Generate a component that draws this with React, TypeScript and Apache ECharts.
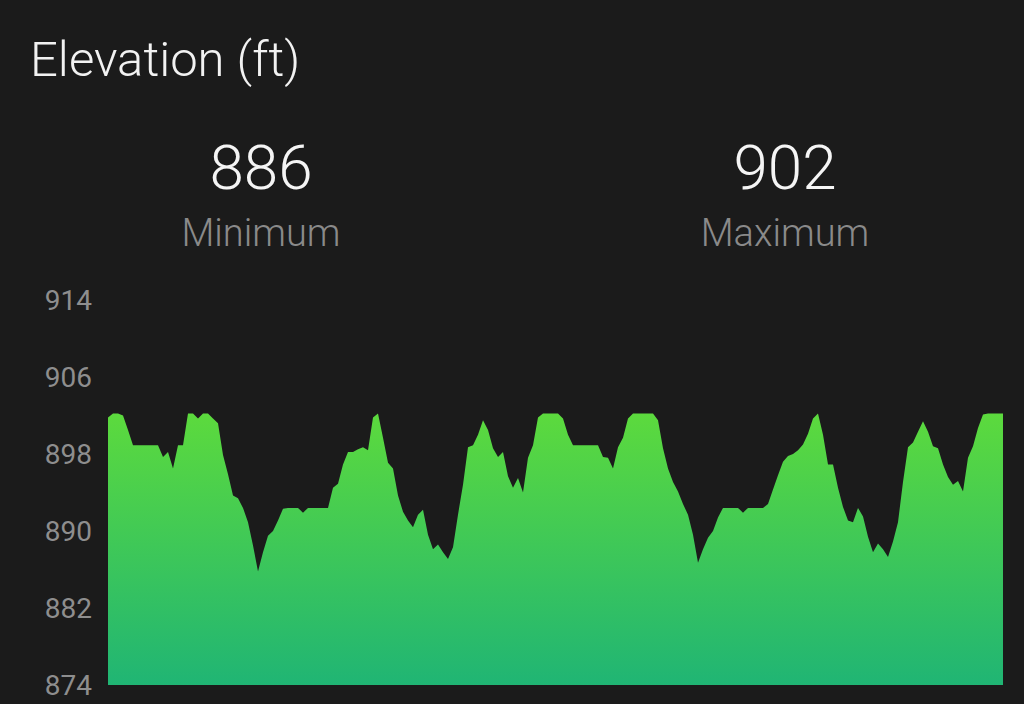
import React, { useEffect, useRef } from "react";
import * as echarts from "echarts";

const title = "Elevation (ft)";
const statLabels = ["Minimum", "Maximum"];
const statValues = [886, 902];
const yTicks = [874, 882, 890, 898, 906, 914];

const elevation = [
  901.8, 902.2, 902.2, 902.0, 900.5, 898.9, 898.9, 898.9, 898.9, 898.9,
  898.9, 897.7, 898.2, 896.5, 898.9, 898.9, 902.2, 902.2, 901.7, 902.2,
  902.2, 901.7, 901.2, 897.9, 895.9, 893.7, 893.4, 892.4, 890.9, 888.5,
  885.8, 887.8, 889.5, 890.0, 891.1, 892.3, 892.4, 892.4, 892.4, 891.9,
  892.4, 892.4, 892.4, 892.4, 892.4, 894.5, 894.9, 896.9, 898.2, 898.2,
  898.5, 898.7, 898.4, 901.8, 902.2, 899.7, 897.1, 896.5, 893.7, 892.0,
  891.1, 890.4, 891.7, 892.2, 889.6, 888.1, 888.6, 887.8, 887.1, 888.3,
  891.7, 894.8, 898.7, 898.9, 900.0, 901.5, 900.5, 898.6, 897.7, 898.2,
  895.7, 894.5, 895.5, 894.0, 897.6, 898.9, 901.8, 902.2, 902.2, 902.2,
  902.2, 901.7, 900.0, 898.9, 898.9, 898.9, 898.9, 898.9, 898.9, 897.7,
  897.6, 896.5, 898.7, 899.7, 901.7, 902.2, 902.2, 902.2, 902.2, 902.2,
  901.5, 898.6, 896.5, 895.1, 894.1, 892.8, 891.7, 889.6, 886.7, 888.1,
  889.3, 890.0, 891.4, 892.4, 892.4, 892.4, 892.4, 891.9, 892.4, 892.4,
  892.4, 892.4, 892.8, 894.3, 895.8, 897.2, 897.8, 898.0, 898.4, 899.0,
  900.1, 901.7, 902.2, 900.0, 896.9, 896.9, 894.5, 892.5, 891.1, 890.9,
  892.4, 891.5, 889.4, 887.8, 888.7, 888.1, 887.3, 888.9, 890.9, 895.1,
  898.7, 899.2, 900.3, 901.4, 900.3, 898.8, 898.6, 896.9, 895.6, 894.8,
  895.2, 894.1, 897.6, 898.8, 900.7, 902.1, 902.2, 902.2, 902.2, 902.2,
];

const samples = elevation.map((_, i) => String(i + 1));

export default function App() {
  const ref = useRef<HTMLDivElement>(null);

  useEffect(() => {
    if (!ref.current) return;
    const chart = echarts.init(ref.current, undefined, { renderer: "svg" });
    chart.setOption({
      animation: false,
      backgroundColor: "#1b1b1b",
      grid: { left: 108, right: 21, top: 300, bottom: 19 },
      xAxis: {
        type: "category",
        data: samples,
        boundaryGap: false,
        show: false,
      },
      yAxis: {
        type: "value",
        min: yTicks[0],
        max: yTicks[yTicks.length - 1],
        interval: yTicks[1] - yTicks[0],
        axisLine: { show: false },
        axisTick: { show: false },
        splitLine: { show: false },
        axisLabel: {
          color: "#8e8e8e",
          fontSize: 28,
          fontFamily: "Roboto",
          margin: 16,
        },
      },
      graphic: [
        {
          type: "text",
          left: 30,
          top: 35,
          style: {
            text: title,
            fill: "#f2f2f2",
            font: "300 49px Roboto",
          },
        },
        {
          type: "text",
          x: 261,
          y: 167,
          style: {
            text: String(statValues[0]),
            fill: "#f5f5f5",
            font: "300 62px Roboto",
            textAlign: "center",
            textVerticalAlign: "middle",
          },
        },
        {
          type: "text",
          x: 261,
          y: 233,
          style: {
            text: statLabels[0],
            fill: "#8a8a8a",
            font: "300 38px Roboto",
            textAlign: "center",
            textVerticalAlign: "middle",
          },
        },
        {
          type: "text",
          x: 785,
          y: 167,
          style: {
            text: String(statValues[1]),
            fill: "#f5f5f5",
            font: "300 62px Roboto",
            textAlign: "center",
            textVerticalAlign: "middle",
          },
        },
        {
          type: "text",
          x: 785,
          y: 233,
          style: {
            text: statLabels[1],
            fill: "#8a8a8a",
            font: "300 38px Roboto",
            textAlign: "center",
            textVerticalAlign: "middle",
          },
        },
      ],
      series: [
        {
          type: "line",
          data: elevation,
          showSymbol: false,
          symbol: "none",
          lineStyle: { width: 0 },
          areaStyle: {
            opacity: 1,
            color: new echarts.graphic.LinearGradient(0, 0, 0, 1, [
              { offset: 0, color: "#5cda3d" },
              { offset: 1, color: "#20b574" },
            ]),
          },
        },
      ],
    });
    return () => chart.dispose();
  }, []);

  return (
    <div
      ref={ref}
      style={{ position: "absolute", left: 0, top: 0, width: 1024, height: 704 }}
    />
  );
}
